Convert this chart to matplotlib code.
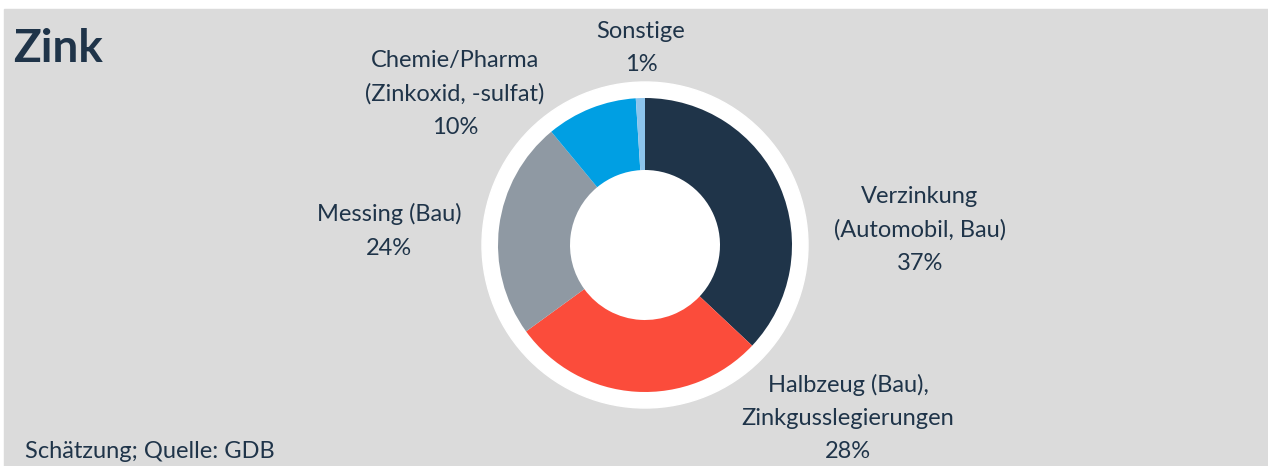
import matplotlib.pyplot as plt
from matplotlib.patches import Rectangle, Circle

# data
labels = ["Verzinkung\n(Automobil, Bau)", "Halbzeug (Bau),\nZinkgusslegierungen",
          "Messing (Bau)", "Chemie/Pharma\n(Zinkoxid, -sulfat)", "Sonstige"]
shares = [37, 28, 24, 10, 1]
colors = ["#1F3449", "#FB4C3B", "#8F99A3", "#009FE3", "#8CC4EC"]

# label anchor positions in pixels (x, y from top)
label_pos = [(920, 230), (848, 418), (389, 231), (455, 94), (641, 48)]

txt_color = "#1F3449"
bg = "#DBDBDB"
W, H = 1268, 466

plt.rcParams['font.family'] = ['Lato', 'DejaVu Sans']

fig = plt.figure(figsize=(W / 100, H / 100), dpi=100)
ax = fig.add_axes([0, 0, 1, 1])

cx, cy = 645, H - 245
ax.add_patch(Rectangle((4, 0), W - 4, H - 9, color=bg, zorder=0))
ax.add_patch(Circle((cx, cy), 163, color="white", zorder=1))

wedges, _ = ax.pie(shares, colors=colors, startangle=90, counterclock=False,
                   center=(cx, cy), radius=147,
                   wedgeprops=dict(width=72, linewidth=0))
for w in wedges:
    w.set_zorder(2)

for lab, s, (x, y) in zip(labels, shares, label_pos):
    ax.text(x, H - y, f"{lab}\n{s}%", ha="center", va="center",
            fontsize=17, color=txt_color, linespacing=1.72, zorder=3)

ax.text(13, H - 49, "Zink", ha="left", va="center", fontsize=33,
        fontweight="bold", color=txt_color)
ax.text(25, H - 452, "Schätzung; Quelle: GDB", ha="left", va="center",
        fontsize=17, color=txt_color)

ax.set_xlim(0, W)
ax.set_ylim(0, H)
ax.set_aspect('auto')
ax.axis('off')
fig.patch.set_facecolor("white")

fig.savefig("out.png", dpi=100)
